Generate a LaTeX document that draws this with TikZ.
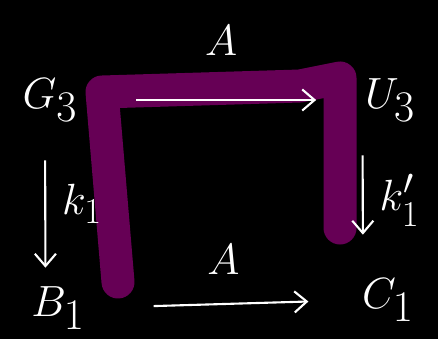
\documentclass[tikz,border=0pt]{standalone}
\usepackage{amsmath,amssymb}
\usetikzlibrary{positioning,arrows.meta}

\definecolor{hlpurple}{RGB}{102,0,85}

\tikzset{
  obj/.style={text=white, font=\fontsize{34}{40}\selectfont, inner sep=2pt},
  lbl/.style={text=white, font=\fontsize{30}{34}\selectfont},
  mor/.style={white, line width=1.2pt, -{Straight Barb[length=7pt,width=12pt]}},
}

\begin{document}
\begin{tikzpicture}[x=0.02cm,y=-0.02cm]
      \fill[black] (0,0) rectangle (438,339);
      \useasboundingbox (0,0) rectangle (438,339);
      % highlighted path
      \draw[hlpurple, line width=0.66cm, line cap=round, line join=round]
        (118,282) -- (102,92) -- (300,86) -- (340,78) -- (340,228);
      \node[obj] (g3) at (50,100) {$G_3$};
      \node[obj] (u3) at (390,100) {$U_3$};
      \node[obj] (b1) at (58,308) {$B_1$};
      \node[obj] (c1) at (388,300) {$C_1$};
      \draw[mor, shorten <=1.1cm, shorten >=0.9cm] (g3.east) -- (u3.west)
        node[lbl, midway, above=0.75cm] {$A$};
      \draw[mor, shorten <=1.3cm, shorten >=1.0cm] (b1.east) -- (c1.west)
        node[lbl, midway, above=0.45cm] {$A$};
      \draw[mor, shorten <=0.7cm, shorten >=0.3cm] ([xshift=-0.1cm]g3.south) -- ([xshift=-0.25cm]b1.north)
        node[lbl, midway, right=0.2cm] {$k_1$};
      \draw[mor, shorten <=0.6cm, shorten >=0.8cm] ([xshift=-0.55cm]u3.south) -- ([xshift=-0.5cm]c1.north)
        node[lbl, midway, right=0.2cm] {$k_1'$};
\end{tikzpicture}
\end{document}
